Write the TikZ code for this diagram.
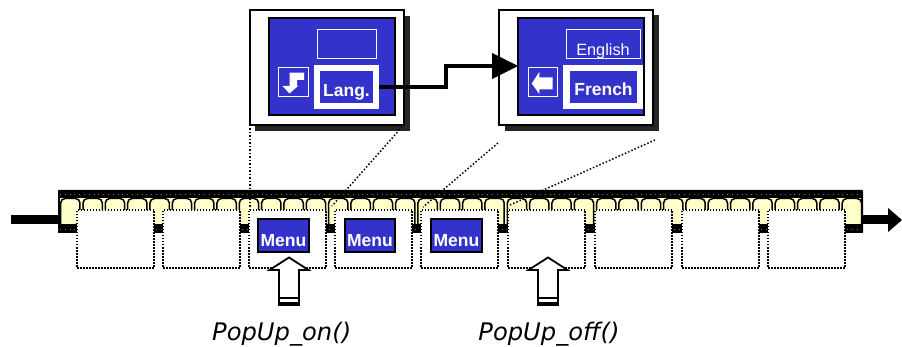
\documentclass[tikz,border=0pt]{standalone}
\usepackage{fontspec}
\setmainfont{DejaVu Sans}
\newfontfamily\btnfont{Liberation Sans}
\newcommand{\pxbox}[7][]{\node[#2,#1,minimum width={(#5-#3)*1pt},minimum height={(#6-#4)*1pt}] (#7) at ({(#3+#5)/2},{(#4+#6)/2}) {};}
\definecolor{screenblue}{HTML}{3333CC}
\definecolor{cellyellow}{HTML}{FFFFCC}
\tikzset{
  every node/.style={inner sep=0pt,outer sep=0pt},
  win/.style={draw=black,line width=1.5pt,fill=white},
  winshadow/.style={fill=black!85},
  screen/.style={draw=black,line width=1.3pt,fill=screenblue},
  thinbtn/.style={draw=white,line width=1.5pt},
  selbtn/.style={draw=white,line width=6pt,outer sep=3pt},
  iconbtn/.style={draw=white,line width=1.5pt},
  iconarrow/.style={fill=white},
  dotbox/.style={draw=black,fill=white,line width=1.5pt,dash pattern=on 1.5pt off 1.5pt},
  dotline/.style={draw=black,line width=1.5pt,dash pattern=on 1.5pt off 2pt},
  menubox/.style={draw=black,line width=1.3pt,fill=screenblue},
  cell/.style={draw=black,line width=1.5pt,fill=cellyellow,rounded corners=4.5pt},
  btntext/.style={text=white,font=\btnfont\fontsize{17.5}{17.5}\selectfont\bfseries,anchor=base},
  calltext/.style={text=black,font=\fontsize{24.2}{24.2}\selectfont\itshape,anchor=base},
  flow/.style={draw=black,line width=4pt},
  bigup/.style={draw=black,fill=white,line width=1.8pt,line join=miter},
}
\begin{document}
\begin{tikzpicture}[x=1pt,y=-1pt]
\useasboundingbox (0,0) rectangle (902,347);
% bus band
\pxbox{fill=black,rounded corners=1pt}{58}{190}{863}{233}{band}
\fill[cellyellow] (60,198) rectangle (861,226);
\foreach \k in {-1,...,34}{
  \draw[cell] ({83+22.33*\k},198.5) rectangle ({83+22.33*\k+19.3},228);
}
\fill[black] (58,224.5) rectangle (863,233);
\draw[black!55,line width=.7pt,dash pattern=on .8pt off 4pt] (60,194.5) -- (861,194.5);
\draw[black!55,line width=.7pt,dash pattern=on .8pt off 4pt] (60,229.5) -- (861,229.5);
% flow arrows at the ends
\coordinate (inL) at (11,219.5);
\coordinate (outR) at (889,220);
\draw[line width=9pt] (inL) -- (band.west |- inL);
\draw[line width=9pt] (band.east |- inL) -- (outR |- inL);
\fill (888,208) -- (902,220) -- (888,232) -- cycle;
% dotted projection lines
\coordinate (p1) at (250,210);
\coordinate (p2) at (332,206);
\coordinate (p3) at (423,207);
\coordinate (p4) at (510,205);
% slots
\pxbox{dotbox}{77}{210}{154}{268}{s1}
\pxbox{dotbox}{163}{210}{240}{268}{s2}
\pxbox{dotbox}{249}{210}{326}{268}{s3}
\pxbox{dotbox}{335}{210}{412}{268}{s4}
\pxbox{dotbox}{421}{210}{498}{268}{s5}
\pxbox{dotbox}{508}{210}{585}{268}{s6}
\pxbox{dotbox}{595}{210}{672}{268}{s7}
\pxbox{dotbox}{682}{210}{759}{268}{s8}
\pxbox{dotbox}{768}{210}{845}{268}{s9}
% menu buttons
\pxbox{menubox}{258}{219}{309}{252}{m1}
\pxbox{menubox}{345}{219}{395}{252}{m2}
\pxbox{menubox}{431}{219}{482}{252}{m3}
\node[btntext] at (283.5,246.7) {Menu};
\node[btntext] at (370,246.7) {Menu};
\node[btntext] at (456.5,246.7) {Menu};
% window 1
\fill[winshadow] (255,16) rectangle (409.5,131);
\pxbox{win}{250}{10}{404}{125}{w1}
\pxbox{screen}{269}{18}{395}{115}{sc1}
\pxbox{thinbtn}{317.5}{29.5}{376.5}{58.5}{t1}
\pxbox{selbtn}{317}{68}{376}{106}{lang}
\pxbox{iconbtn}{278.5}{67.5}{308.5}{96.5}{i1}
\fill[iconarrow] (304,72.7) -- (304,80) -- (297,80) -- (297,86) -- (298,86) -- (289.5,93.5) -- (282.5,86) -- (289.5,86) -- (289.5,72.7) -- cycle;
\node[btntext] at (346.5,96.5) {Lang.};
% window 2
\fill[winshadow] (504.5,15) rectangle (659,131);
\pxbox{win}{499}{10}{653}{125}{w2}
\pxbox{screen}{518}{18}{644}{115}{sc2}
\pxbox{thinbtn}{566.5}{29.5}{640.5}{58.5}{t2}
\node[text=white,font=\btnfont\fontsize{16.3}{16.3}\selectfont,anchor=base] at (603,56) {English};
\fill[white] (563,65) rectangle (643.3,109);
\pxbox{fill=screenblue}{570}{71}{637}{103}{french}
\pxbox{iconbtn}{528.5}{67.5}{557.5}{96.5}{i2}
\fill[iconarrow] (531.7,83.5) -- (539.3,72) -- (539.3,77.5) -- (552.7,77.5) -- (552.7,89.5) -- (539.3,89.5) -- (539.3,94) -- cycle;
\node[btntext] at (603.5,96) {French};
% projection lines
\draw[dotline] (w1.south west) -- (p1);
\draw[dotline] (402,127) -- (p2);
\draw[dotline] (498,143) -- (p3);
\draw[dotline] (655,140) -- (p4);
% connector
\draw[flow] (lang.east) -- (446,87) -- (446,66) -- (493,66);
\fill (492,53) -- (sc2.west |- 0,66) -- (492,79) -- cycle;
% up arrows
\foreach \c/\n in {289/on,548/off}{
  \draw[bigup] (\c,257.5) -- (\c+19.5,270) -- (\c+10,270) -- (\c+10,305) -- (\c-10,305) -- (\c-10,270) -- (\c-19.5,270) -- cycle;
  \draw[line width=1.8pt] (\c-10,298) -- (\c+10,298);
  \draw[line width=4pt] (\c-10,304) -- (\c+10,304);
}
% calls
\node[calltext] (lon) at (281.7,340) {PopUp\_on()};
\node[calltext] (loff) at (549,340) {PopUp\_off()};
\end{tikzpicture}
\end{document}
